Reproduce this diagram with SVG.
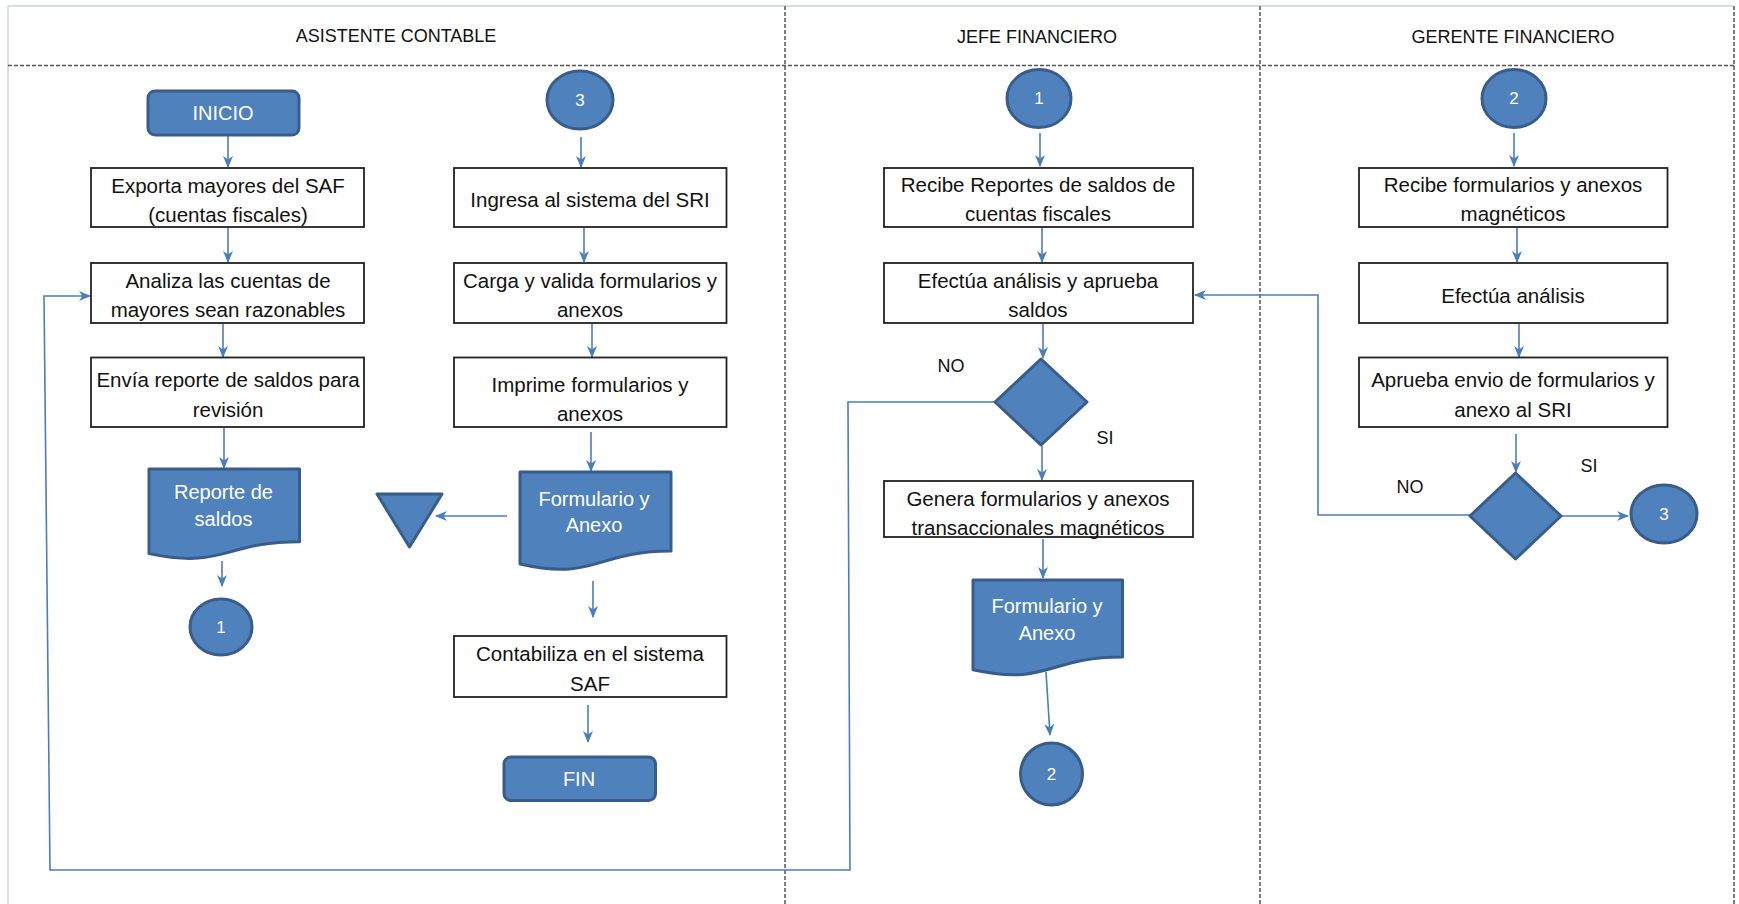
<svg xmlns="http://www.w3.org/2000/svg" width="1739" height="904" viewBox="0 0 1739 904">
<style>
text{font-family:"Liberation Sans",Arial,sans-serif;dominant-baseline:central;text-anchor:middle}
.hd{font-size:18px;fill:#111}
.tx{font-size:20.5px;fill:#111}
.wt{font-size:20px;fill:#fff}
.nm{font-size:17px;fill:#fff}
.lb{font-size:18px;fill:#111}
.proc{fill:#fff;stroke:#222;stroke-width:1.8}
.blue{fill:#4F81BD;stroke:#385D8A;stroke-width:3;stroke-linejoin:round}
.dash{stroke:#555;stroke-width:1.5;stroke-dasharray:4 2;fill:none}
.con{stroke:#4A7EBB;stroke-width:1.6;fill:none}
.arr{marker-end:url(#ah)}
</style>
<defs>
<marker id="ah" viewBox="0 0 12 10" refX="11" refY="5" markerWidth="12" markerHeight="10" markerUnits="userSpaceOnUse" orient="auto">
<path d="M0,0 L12,5 L0,10 L3.5,5 Z" fill="#4A7EBB"/>
</marker>
</defs>
<rect width="1739" height="904" fill="#fff"/>
<g id="lanes">
<line x1="8" y1="6" x2="1734" y2="6" stroke="#d5ddec" stroke-width="2"/>
<line x1="8" y1="6" x2="8" y2="904" stroke="#d5ddec" stroke-width="2"/>
<line class="dash" x1="8" y1="65.5" x2="1734" y2="65.5"/>
<line class="dash" x1="785" y1="6" x2="785" y2="904"/>
<line class="dash" x1="1260" y1="6" x2="1260" y2="904"/>
<line class="dash" x1="1734" y1="6" x2="1734" y2="904"/>
<text class="hd" x="396" y="36">ASISTENTE CONTABLE</text>
<text class="hd" x="1037" y="37">JEFE FINANCIERO</text>
<text class="hd" x="1513" y="37">GERENTE FINANCIERO</text>
</g>
<g id="connectors">
<line class="con arr" x1="228" y1="135" x2="228" y2="167"/>
<line class="con arr" x1="228" y1="228" x2="228" y2="262"/>
<line class="con arr" x1="223" y1="324" x2="223" y2="357"/>
<line class="con arr" x1="224" y1="428" x2="224" y2="468"/>
<line class="con arr" x1="222" y1="561" x2="222" y2="586"/>
<line class="con arr" x1="581" y1="137" x2="581" y2="167"/>
<line class="con arr" x1="584" y1="228" x2="584" y2="262"/>
<line class="con arr" x1="592" y1="324" x2="592" y2="357"/>
<line class="con arr" x1="591" y1="432" x2="591" y2="471"/>
<line class="con arr" x1="507" y1="516" x2="436" y2="516"/>
<line class="con arr" x1="593" y1="581" x2="593" y2="617"/>
<line class="con arr" x1="588" y1="705" x2="588" y2="742"/>
<path class="con arr" d="M996,402 H848 L850,870 H50 L44,296 H90"/>
<line class="con arr" x1="1040" y1="133" x2="1040" y2="166"/>
<line class="con arr" x1="1042" y1="228" x2="1042" y2="262"/>
<line class="con arr" x1="1043" y1="324" x2="1043" y2="358"/>
<line class="con arr" x1="1042" y1="446" x2="1042" y2="480"/>
<line class="con arr" x1="1043" y1="539" x2="1043" y2="578"/>
<line class="con arr" x1="1046" y1="672" x2="1050" y2="735"/>
<path class="con arr" d="M1470,515 H1318 V295 H1195"/>
<line class="con arr" x1="1514" y1="133" x2="1514" y2="166"/>
<line class="con arr" x1="1517" y1="228" x2="1517" y2="262"/>
<line class="con arr" x1="1519" y1="324" x2="1519" y2="357"/>
<line class="con arr" x1="1516" y1="434" x2="1516" y2="472"/>
<line class="con arr" x1="1561" y1="516" x2="1628" y2="516"/>
</g>
<g id="inicio"><rect class="blue" x="148" y="91" width="151" height="44" rx="7"/><text class="wt" x="223" y="113">INICIO</text></g>
<g id="exporta"><rect class="proc" x="91" y="168" width="273" height="59"/><text class="tx" x="228" y="185">Exporta mayores del SAF</text><text class="tx" x="228" y="214">(cuentas fiscales)</text></g>
<g id="analiza"><rect class="proc" x="91" y="263" width="273" height="60"/><text class="tx" x="228" y="280">Analiza las cuentas de</text><text class="tx" x="228" y="309">mayores sean razonables</text></g>
<g id="envia"><rect class="proc" x="91" y="357.5" width="273" height="69.5"/><text class="tx" x="228" y="379">Envía reporte de saldos para</text><text class="tx" x="228" y="409">revisión</text></g>
<g id="reporte"><path class="blue" d="M149,469 H299.5 V541.7 C224.25,541.7 224.25,569.3 149,553.6 Z"/><text class="wt" x="223.5" y="492">Reporte de</text><text class="wt" x="223.5" y="519">saldos</text></g>
<g id="con1a"><ellipse class="blue" cx="221" cy="627" rx="31" ry="28"/><text class="nm" x="221" y="627">1</text></g>
<g id="con3a"><ellipse class="blue" cx="580" cy="100" rx="33" ry="29"/><text class="nm" x="580" y="100">3</text></g>
<g id="ingresa"><rect class="proc" x="454" y="168" width="272.5" height="59"/><text class="tx" x="590" y="199">Ingresa al sistema del SRI</text></g>
<g id="carga"><rect class="proc" x="454" y="263" width="272.5" height="60"/><text class="tx" x="590" y="280">Carga y valida formularios y</text><text class="tx" x="590" y="309">anexos</text></g>
<g id="imprime"><rect class="proc" x="454" y="357.5" width="272.5" height="69.5"/><text class="tx" x="590" y="384">Imprime formularios y</text><text class="tx" x="590" y="413">anexos</text></g>
<g id="formulario1"><path class="blue" d="M520,472 H671 V551 C595.5,551 595.5,581.1 520,564 Z"/><text class="wt" x="594" y="498.5">Formulario y</text><text class="wt" x="594" y="525">Anexo</text></g>
<g id="archivo"><path class="blue" d="M377,494 H442 L409.5,547 Z"/></g>
<g id="contabiliza"><rect class="proc" x="454" y="636" width="272.5" height="61"/><text class="tx" x="590" y="653">Contabiliza en el sistema</text><text class="tx" x="590" y="683">SAF</text></g>
<g id="fin"><rect class="blue" x="504" y="757" width="151.5" height="43.5" rx="7"/><text class="wt" x="579" y="779">FIN</text></g>
<g id="con1b"><ellipse class="blue" cx="1039" cy="98.5" rx="32" ry="29"/><text class="nm" x="1039" y="98.5">1</text></g>
<g id="recibe1"><rect class="proc" x="884" y="168" width="309" height="59"/><text class="tx" x="1038" y="184">Recibe Reportes de saldos de</text><text class="tx" x="1038" y="213">cuentas fiscales</text></g>
<g id="efectua1"><rect class="proc" x="884" y="263" width="309" height="60"/><text class="tx" x="1038" y="280">Efectúa análisis y aprueba</text><text class="tx" x="1038" y="309">saldos</text></g>
<g id="decision1"><path class="blue" d="M1041,359 L1087,402 L1041,445 L995,402 Z"/><text class="lb" x="951" y="366">NO</text><text class="lb" x="1105" y="438">SI</text></g>
<g id="genera"><rect class="proc" x="884" y="481" width="309" height="56"/><text class="tx" x="1038" y="498">Genera formularios y anexos</text><text class="tx" x="1038" y="527">transaccionales magnéticos</text></g>
<g id="formulario2"><path class="blue" d="M973,580 H1122.5 V657 C1047.75,657 1047.75,686.3 973,669.7 Z"/><text class="wt" x="1047" y="605.5">Formulario y</text><text class="wt" x="1047" y="632.5">Anexo</text></g>
<g id="con2a"><ellipse class="blue" cx="1051.5" cy="774" rx="31" ry="31"/><text class="nm" x="1051.5" y="774">2</text></g>
<g id="con2b"><ellipse class="blue" cx="1514" cy="98.5" rx="32" ry="29"/><text class="nm" x="1514" y="98.5">2</text></g>
<g id="recibe2"><rect class="proc" x="1359" y="168" width="308.5" height="59"/><text class="tx" x="1513" y="184">Recibe formularios y anexos</text><text class="tx" x="1513" y="213">magnéticos</text></g>
<g id="efectua2"><rect class="proc" x="1359" y="263" width="308.5" height="60"/><text class="tx" x="1513" y="295">Efectúa análisis</text></g>
<g id="aprueba"><rect class="proc" x="1359" y="357.5" width="308.5" height="69.5"/><text class="tx" x="1513" y="379">Aprueba envio de formularios y</text><text class="tx" x="1513" y="409">anexo al SRI</text></g>
<g id="decision2"><path class="blue" d="M1515.5,473 L1561,516 L1515.5,559 L1470,516 Z"/><text class="lb" x="1589" y="466">SI</text><text class="lb" x="1410" y="487">NO</text></g>
<g id="con3b"><ellipse class="blue" cx="1664" cy="514" rx="33" ry="29"/><text class="nm" x="1664" y="514">3</text></g>
</svg>
